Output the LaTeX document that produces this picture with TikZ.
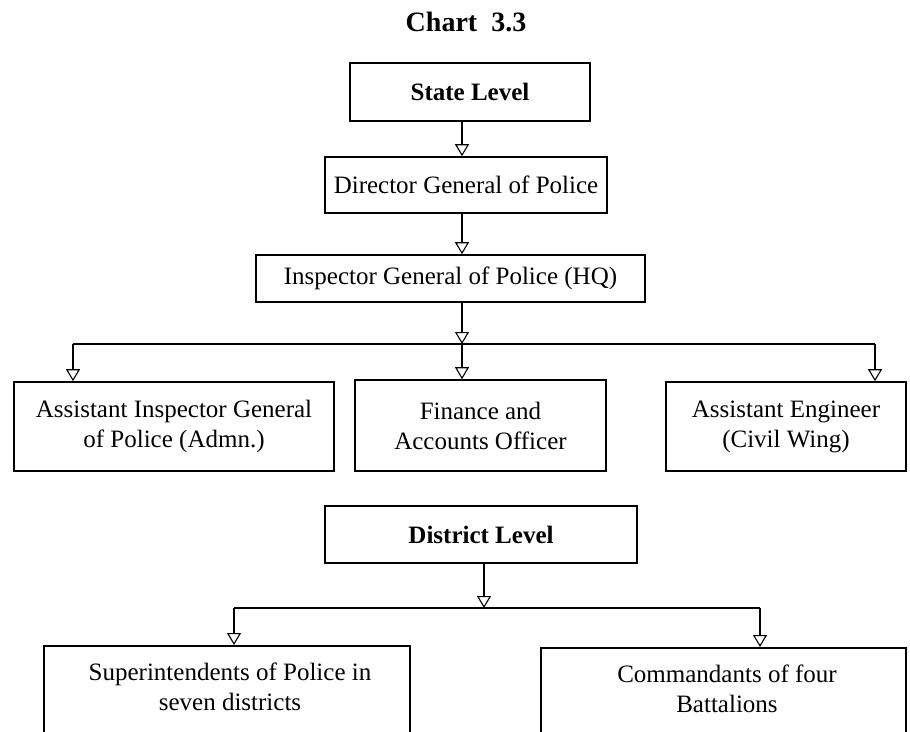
\documentclass[tikz,border=0pt]{standalone}
\usepackage{fontspec}
\setmainfont{Liberation Serif}
\usetikzlibrary{arrows.meta,positioning,calc}
\begin{document}
\begin{tikzpicture}[x=1pt,y=-1pt,
  box/.style={draw,line width=1.6pt,inner sep=0pt,align=center,font=\fontsize{25}{30}\selectfont},
  conn/.style={line width=1.2pt},
  arr/.style={line width=1.2pt,-{Triangle[open,width=14pt,length=12pt,line width=1.1pt]}},
  ]
\useasboundingbox (0,0) rectangle (910,731);
\node[font=\fontsize{28}{32}\selectfont\bfseries] (title) at (466,22) {Chart\hspace{0.5em}3.3};
\node[box,minimum width=240pt,minimum height=58pt,font=\fontsize{25}{30}\selectfont\bfseries] (state) at (470,92) {State Level};
\node[box,minimum width=282pt,minimum height=56pt] (dgp) at (466,185) {Director General of Police};
\node[box,minimum width=389pt,minimum height=47pt] (igp) at (450.5,278.5) {Inspector General of Police (HQ)};
\node[box,minimum width=320pt,minimum height=89pt] (aig) at (174,426.5) {Assistant Inspector General\\of Police (Admn.)};
\node[box,minimum width=251pt,minimum height=91pt] (fin) at (480.5,425.5) {Finance and\\Accounts Officer};
\node[box,minimum width=240pt,minimum height=89pt] (ae) at (786,426.5) {Assistant Engineer\\(Civil Wing)};
\node[box,minimum width=312pt,minimum height=57pt,font=\fontsize{25}{30}\selectfont\bfseries] (dist) at (481,534.5) {District Level};
\node[box,minimum width=366pt,minimum height=130pt,anchor=north] (sp) at (227,645) {};
\node[box,minimum width=365pt,minimum height=130pt,anchor=north] (cb) at (723.5,647) {};
\node[font=\fontsize{25}{30}\selectfont,align=center,anchor=north] (sptext) at (230,659) {Superintendents of Police in\\seven districts};
\node[font=\fontsize{25}{30}\selectfont,align=center,anchor=north] (cbtext) at (727,661) {Commandants of four\\Battalions};
% connectors
\coordinate (a1) at (462,0);
\draw[arr] (a1 |- state.south) -- (a1 |- dgp.north);
\draw[arr] (a1 |- dgp.south) -- (a1 |- igp.north);
\coordinate (j1) at (462,344);
\coordinate (jL) at (73,344);
\coordinate (jR) at (875,344);
\draw[arr] (j1 |- igp.south) -- (j1);
\draw[conn] (jL) -- (jR);
\draw[arr] (j1) -- (j1 |- fin.north);
\draw[arr] (jL) -- (jL |- aig.north);
\draw[arr] (jR) -- (jR |- ae.north);
\coordinate (j2) at (484,608);
\coordinate (kL) at (234,608);
\coordinate (kR) at (760,608);
\draw[arr] (j2 |- dist.south) -- (j2);
\draw[conn] (kL) -- (kR);
\draw[arr] (kL) -- (kL |- sp.north);
\draw[arr] (kR) -- (kR |- cb.north);
\end{tikzpicture}
\end{document}
